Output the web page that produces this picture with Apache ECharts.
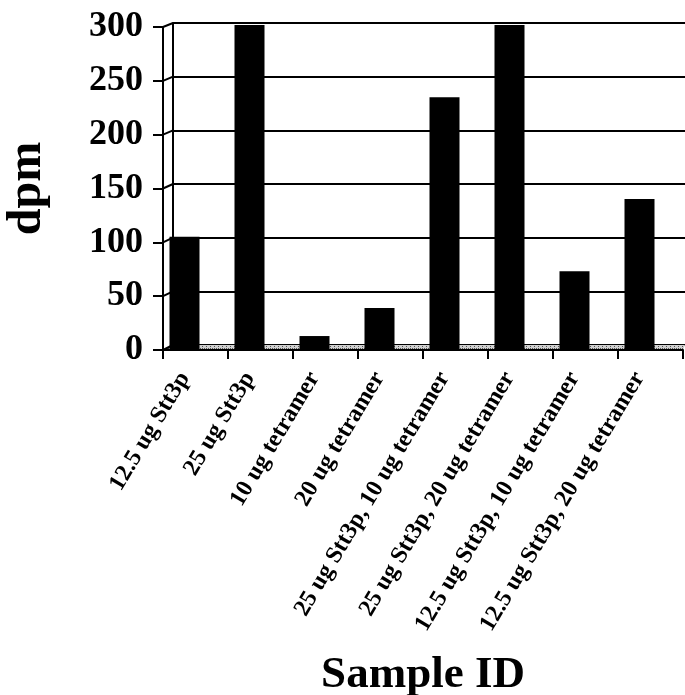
<!DOCTYPE html>
<html>
<head>
<meta charset="utf-8">
<script src="https://cdn.jsdelivr.net/npm/echarts@6/dist/echarts.min.js"></script>
<style>
  html, body { margin: 0; padding: 0; background: #fff; }
  #chart { width: 685px; height: 695px; }
</style>
</head>
<body>
<div id="chart"></div>
<script>
// Sample labels and measured activity (dpm)
const categories = [
  '12.5 ug Stt3p',
  '25 ug Stt3p',
  '10 ug tetramer',
  '20 ug tetramer',
  '25 ug Stt3p, 10 ug tetramer',
  '25 ug Stt3p, 20 ug tetramer',
  '12.5 ug Stt3p, 10 ug tetramer',
  '12.5 ug Stt3p, 20 ug tetramer'
];
const dpmValues = [104, 300, 12, 38, 233, 300, 72, 139];
const yTicks = [0, 50, 100, 150, 200, 250, 300];
const yMin = 0, yMax = 300, yStep = 50;

// Pseudo-3D layout: a front axis frame, a back wall offset up/right, and the bar plane
const front = { left: 163, top: 27, bottom: 350, right: 683 };
const back = { left: 173, top: 23, bottom: 345, right: 685 };
const barPlane = { left: 152, top: 25, bottom: 349, right: 672 };
const serif = "'Liberation Serif', 'Times New Roman', 'DejaVu Serif', serif";

function gridOf(r) {
  return {
    left: r.left, top: r.top, width: r.right - r.left, height: r.bottom - r.top,
    containLabel: false, outerBoundsMode: 'none'
  };
}

const chart = echarts.init(document.getElementById('chart'), null, { renderer: 'canvas' });

chart.setOption({
  animation: false,
  backgroundColor: '#fff',
  grid: [gridOf(back), gridOf(barPlane), gridOf(front)],
  xAxis: [
    { gridIndex: 0, type: 'category', data: categories, show: false },
    {
      // category labels sit under the bars
      gridIndex: 1, type: 'category', data: categories,
      axisLine: { show: false }, axisTick: { show: false },
      axisLabel: {
        interval: 0, rotate: 59, margin: 25, color: '#000',
        fontFamily: serif, fontWeight: 'bold', fontSize: 24
      }
    },
    {
      gridIndex: 2, type: 'category', data: categories, z: 5,
      axisLine: { show: true, lineStyle: { color: '#000', width: 2 } },
      axisTick: { show: true, interval: 0, length: 9, lineStyle: { color: '#000', width: 2 } },
      axisLabel: { show: false, interval: 0 },
      name: 'Sample ID', nameLocation: 'middle', nameGap: 303,
      nameTextStyle: { color: '#000', fontFamily: serif, fontWeight: 'bold', fontSize: 45 }
    }
  ],
  yAxis: [
    {
      gridIndex: 0, type: 'value', min: yMin, max: yMax, interval: yStep,
      axisLine: { show: true, lineStyle: { color: '#000', width: 2 } },
      axisTick: { show: false }, axisLabel: { show: false },
      splitLine: { show: true, lineStyle: { color: '#000', width: 2 } }
    },
    { gridIndex: 1, type: 'value', min: yMin, max: yMax, interval: yStep, show: false },
    {
      gridIndex: 2, type: 'value', min: yMin, max: yMax, interval: yStep, z: 5,
      axisLine: { show: true, lineStyle: { color: '#000', width: 2 } },
      axisTick: { show: true, length: 10, lineStyle: { color: '#000', width: 2 } },
      axisLabel: { margin: 20, color: '#000', fontFamily: serif, fontWeight: 'bold', fontSize: 36 },
      splitLine: { show: false },
      name: 'dpm', nameLocation: 'middle', nameRotate: 90, nameGap: 111,
      nameTextStyle: { color: '#000', fontFamily: serif, fontWeight: 'bold', fontSize: 48 }
    }
  ],
  series: [{
    type: 'bar', xAxisIndex: 1, yAxisIndex: 1, data: dpmValues,
    barWidth: 30, z: 3, silent: true,
    itemStyle: { color: '#000' }
  }]
});

// Stippled grey texture for the chart floor
function floorPattern() {
  const c = document.createElement('canvas');
  c.width = 4; c.height = 4;
  const g = c.getContext('2d');
  g.fillStyle = '#d0d0d0'; g.fillRect(0, 0, 4, 4);
  g.fillStyle = '#555';
  g.fillRect(0, 0, 1, 1); g.fillRect(2, 2, 1, 1); g.fillRect(2, 0, 1, 1);
  return { image: c, repeat: 'repeat' };
}

// Side panel edges and floor, positioned through the axes' own scales
const yF = v => chart.convertToPixel({ yAxisIndex: 2 }, v);
const yB = v => chart.convertToPixel({ yAxisIndex: 0 }, v);
const graphics = yTicks.map(v => ({
  type: 'line', z: 4, silent: true,
  shape: { x1: front.left, y1: yF(v), x2: back.left, y2: yB(v) },
  style: { stroke: '#000', lineWidth: 2 }
}));
graphics.push({
  type: 'polygon', z: 1, silent: true,
  shape: { points: [[front.left, yF(0)], [back.left, yB(0)], [back.right, yB(0)], [front.right, yF(0)]] },
  style: { fill: floorPattern(), stroke: null }
});
chart.setOption({ graphic: graphics });
</script>
</body>
</html>
